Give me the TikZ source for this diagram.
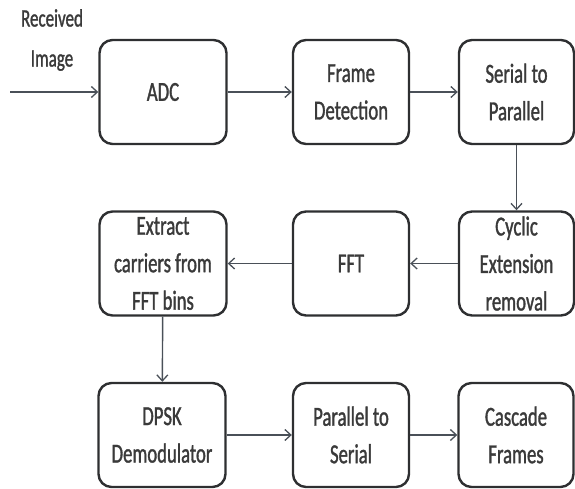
\documentclass[tikz,border=0pt]{standalone}
\usepackage{fontspec}
\setmainfont{Carlito}[FakeStretch=0.68, FakeBold=1.2]
\usetikzlibrary{arrows.meta}
\definecolor{inkgray}{HTML}{3A3A3A}
\definecolor{framegray}{HTML}{2E2F31}
\definecolor{wiregray}{HTML}{4A5058}
\tikzset{
  block/.style={draw=framegray, line width=2.4pt, rounded corners=13pt, fill=white,
    text=inkgray, align=center, inner sep=0pt,
    font=\fontsize{27.5}{37.5}\selectfont},
  colA/.style={block, minimum width=127pt, minimum height=104pt},
  colB/.style={block, minimum width=116pt, minimum height=104pt},
  colC/.style={block, minimum width=115pt, minimum height=104pt},
  flow/.style={draw=wiregray, line width=1.4pt,
    -{Straight Barb[length=6pt,width=11pt,line width=1.3pt]}},
  caption/.style={text=inkgray, align=center, inner sep=0pt,
    font=\fontsize{25}{40}\selectfont}
}
\begin{document}
\begin{tikzpicture}[x=1pt, y=-1pt]
  \useasboundingbox (0,0) rectangle (575,489);

  % first row
  \node[colA] (adc)    at (163,92)    {ADC};
  \node[colB] (frame)  at (351,92)    {Frame\\Detection};
  \node[colC] (s2p)    at (516.5,92)  {Serial to\\Parallel};

  % second row
  \node[colA] (extract) at (163,263.5)   {Extract\\carriers from\\FFT bins};
  \node[colB] (fft)     at (351,263.5)   {FFT};
  \node[colC] (cyclic)  at (516.5,263.5) {Cyclic\\Extension\\removal};

  % third row
  \node[colA] (dpsk)    at (162,435)   {DPSK\\Demodulator};
  \node[colB] (p2s)     at (351,435)   {Parallel to\\Serial};
  \node[colC] (cascade) at (516,435)   {Cascade\\Frames};

  % input
  \coordinate (in) at (10,92);
  \node[caption] (rxlabel) at (52,40) {Received\\Image};

  % signal path
  \draw[flow] (in) -- (adc);
  \draw[flow] (adc) -- (frame);
  \draw[flow] (frame) -- (s2p);
  \draw[flow] (s2p) -- (cyclic);
  \draw[flow] (cyclic) -- (fft);
  \draw[flow] (fft) -- (extract);
  \draw[flow] (extract) -- (dpsk);
  \draw[flow] (dpsk) -- (p2s);
  \draw[flow] (p2s) -- (cascade);
\end{tikzpicture}
\end{document}
